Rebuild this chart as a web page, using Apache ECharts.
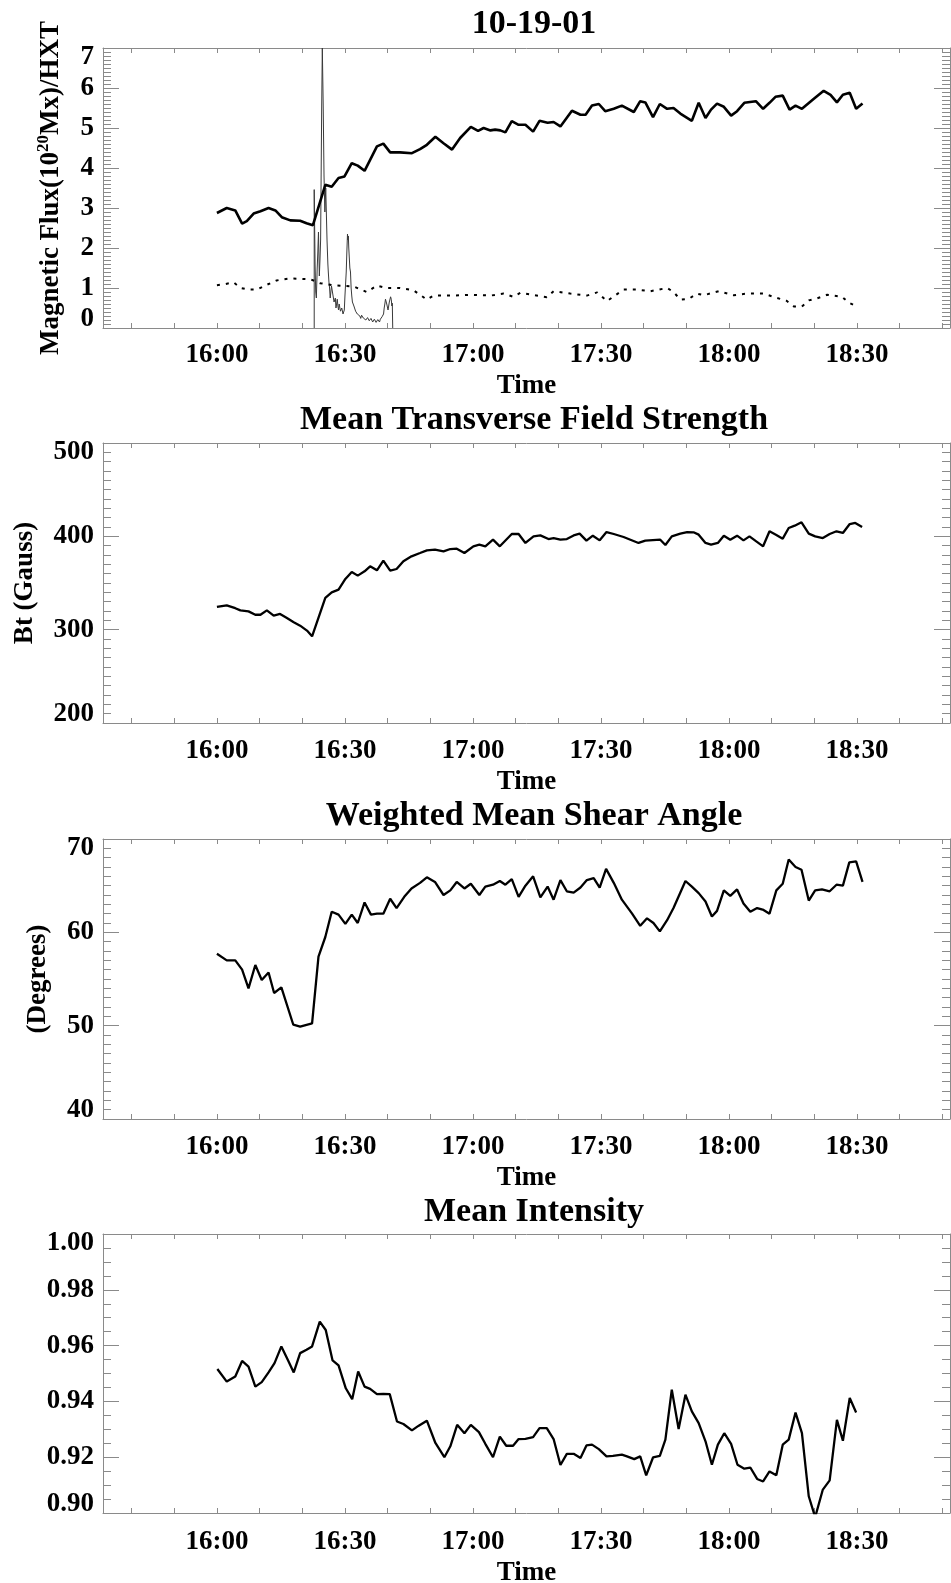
<!DOCTYPE html>
<html>
<head>
<meta charset="utf-8">
<script src="https://cdn.jsdelivr.net/npm/echarts@6/dist/echarts.min.js"></script>
<style>
html,body{margin:0;padding:0;background:#fff;}
#chart{width:951px;height:1583px;}
</style>
</head>
<body>
<div id="chart"></div>
<script>
// Times are minutes after 16:00 UT
const titles = ['10-19-01', 'Mean Transverse Field Strength', 'Weighted Mean Shear Angle', 'Mean Intensity'];
const timeTicks = [-20,-10,0,10,20,30,40,50,60,70,80,90,100,110,120,130,140,150,160,170];
const timeLabels = [0,30,60,90,120,150];

// Panel 1: magnetic flux (solid), second flux (dotted), HXT (thin)
const fluxT = [0,2.3,4.3,5.9,7.0,8.6,10.2,12.1,13.7,15.2,17.2,19.5,21.0,22.5,25.4,26.9,28.5,29.9,31.6,33.0,34.6,37.5,39.0,40.6,42.9,45.7,47.6,49.2,51.2,53.1,55.1,57.0,59.5,61.2,62.5,64.1,65.2,66.4,67.6,69.1,70.7,72.3,74.1,75.6,77.5,78.9,80.5,83.2,85.2,86.4,87.9,89.5,91.0,93.0,94.9,97.7,99.2,100.4,102.2,103.8,105.5,107.0,108.6,111.3,112.9,114.5,115.8,117.2,118.8,120.5,121.9,123.6,126.3,128.0,129.5,130.9,132.6,134.2,135.6,137.1,139.9,142.2,143.8,145.3,146.7,148.3,149.8,151.3];
const fluxV = [2.875,3.0,2.94,2.61,2.67,2.86,2.92,3.0,2.94,2.77,2.69,2.68,2.62,2.57,3.58,3.53,3.75,3.79,4.12,4.06,3.93,4.54,4.61,4.39,4.39,4.37,4.47,4.58,4.78,4.62,4.46,4.75,5.03,4.93,5.0,4.94,4.96,4.94,4.89,5.17,5.08,5.08,4.91,5.18,5.13,5.15,5.04,5.43,5.33,5.33,5.56,5.6,5.42,5.48,5.56,5.4,5.67,5.64,5.27,5.6,5.48,5.5,5.36,5.18,5.63,5.25,5.46,5.61,5.53,5.31,5.42,5.63,5.67,5.48,5.63,5.78,5.81,5.46,5.56,5.48,5.73,5.93,5.83,5.64,5.83,5.88,5.48,5.61];

const dotT = [0,2.0,3.9,5.6,7.4,9.4,11.7,14.0,17.2,19.5,21.9,24.2,27.3,30.0,32.0,35.1,37.5,39.8,42.9,46.1,49.2,50.8,55.5,59.4,62.6,64.1,67.2,69.5,71.1,74.4,77.3,78.9,82.8,86.7,89.1,91.4,93.0,95.3,98.4,101.6,105.5,107.0,108.6,110.6,112.5,114.1,117.6,121.1,124.2,128.1,131.3,133.5,135.2,137.1,138.7,140.6,143.0,146.5,148.1,150.0];
const dotV = [1.07,1.1,1.14,1.0,0.96,0.96,1.08,1.19,1.24,1.23,1.22,1.12,1.07,1.05,1.04,0.9,1.06,1.0,1.0,0.94,0.71,0.81,0.81,0.83,0.82,0.81,0.86,0.78,0.88,0.82,0.77,0.92,0.86,0.81,0.89,0.67,0.79,0.96,0.96,0.92,1.0,0.9,0.71,0.73,0.86,0.82,0.92,0.82,0.86,0.86,0.75,0.68,0.54,0.54,0.69,0.74,0.83,0.78,0.63,0.54];

const hxtT = [22.8,22.8,23.0,23.15,23.3,23.5,23.65,23.8,24.0,24.15,24.3,24.55,24.7,24.9,25.1,25.3,25.5,25.8,26.0,26.1,26.25,26.4,26.55,26.7,26.85,27.0,27.15,27.3,27.45,27.6,27.75,27.9,28.05,28.2,28.35,28.5,28.65,28.8,28.95,29.1,29.25,29.4,29.55,29.7,29.85,30.0,30.15,30.3,30.45,30.6,30.7,30.8,30.9,31.0,31.15,31.3,31.45,31.6,31.75,31.9,32.1,32.3,32.5,32.7,32.9,33.1,33.3,33.5,33.7,33.9,34.1,34.3,34.5,34.7,34.9,35.1,35.3,35.5,35.7,35.9,36.1,36.3,36.5,36.7,36.9,37.1,37.3,37.5,37.7,37.9,38.1,38.3,38.5,38.7,38.9,39.05,39.2,39.35,39.5,39.65,39.8,39.95,40.1,40.25,40.4,40.55,40.7,40.85,41.0,41.1,41.2];
const hxtV = [0,3.46,1.6,0.9,0.75,1.5,1.9,2.4,1.3,1.7,2.2,5.5,7.0,5.6,3.8,2.9,3.5,2.2,1.6,1.4,1.15,1.0,0.75,0.9,1.05,1.1,0.85,0.8,0.65,0.6,0.75,0.5,0.6,0.72,0.55,0.45,0.6,0.62,0.42,0.4,0.5,0.55,0.35,0.3,0.45,0.8,1.1,1.4,1.9,2.35,2.2,2.3,2.0,1.8,1.5,1.4,1.0,0.8,0.65,0.6,0.55,0.5,0.42,0.4,0.35,0.38,0.3,0.3,0.24,0.32,0.27,0.25,0.3,0.27,0.2,0.22,0.26,0.25,0.18,0.2,0.24,0.22,0.15,0.17,0.22,0.2,0.14,0.16,0.21,0.19,0.15,0.22,0.26,0.28,0.32,0.35,0.5,0.6,0.72,0.75,0.6,0.55,0.45,0.5,0.65,0.7,0.78,0.72,0.55,0.62,0];

// Panel 2: mean transverse field (G)
const btT = [0,2.3,4.3,5.5,7.4,9.0,10.2,11.7,13.3,14.8,16.4,18.0,19.5,21.1,22.3,25.4,26.9,28.5,30.1,31.6,33.0,34.6,35.9,37.5,39.0,40.6,42.1,43.7,45.6,47.6,49.2,51.1,53.1,54.7,56.2,58.0,60.1,61.5,62.9,64.7,66.3,69.1,70.7,72.3,74.2,75.8,77.7,78.9,80.5,82.0,83.6,85.0,86.6,88.1,89.7,91.3,93.0,95.3,98.8,100.4,103.9,105.1,106.6,108.6,110.2,111.7,112.9,114.5,115.8,117.4,118.8,120.3,121.9,123.4,124.8,126.4,128.0,129.5,131.0,132.6,134.0,135.4,137.0,138.7,140.2,142.0,143.6,145.2,146.7,148.3,149.6,151.2];
const btV = [324.3,326,323,320.7,319.6,316,316,320.7,315,316.8,312.5,308,304.3,299,292.9,334,340,342.9,354.3,361.8,357.9,362.5,367.9,363.6,373.9,363.2,365,373.2,378.6,382.1,385,385.7,383.9,386.4,386.8,382.1,389.3,391,389.3,396.4,389.3,402.5,402.5,392.9,400,401,397.1,398.2,396.4,397.1,401,402.9,395.4,400.7,395.7,404.6,402.5,399.3,392.9,395.4,396.4,390.7,400,402.9,404.6,404.3,401.8,392.9,391.1,392.9,400.7,396.4,400.7,395.7,400,394.6,389.3,405.4,401.8,397.5,408.9,411.4,415,402.9,400,398.2,402.5,405.4,403.6,413.2,414.3,410];

// Panel 3: weighted mean shear angle (deg)
const shearT = [0,2.3,4.3,5.9,7.4,9.0,10.5,12.1,13.4,15.1,17.9,19.5,22.3,23.8,25.4,26.9,28.5,30.1,31.6,33.0,34.6,36.1,37.5,39.0,40.6,42.1,43.9,45.6,47.6,49.2,51.1,53.1,54.7,56.2,58.0,59.5,61.5,62.9,64.7,66.3,67.6,69.1,70.7,72.3,74.1,75.8,77.5,78.9,80.5,82.0,83.6,85.2,86.7,88.3,89.7,91.2,93.0,94.9,97.3,99.2,100.8,102.3,103.8,105.5,107.0,109.8,111.3,112.9,114.5,116.0,117.2,118.8,120.3,121.9,123.4,125.0,126.6,128.1,129.5,131.1,132.6,134.0,135.6,137.0,138.7,140.2,141.8,143.6,145.2,146.7,148.2,149.8,151.3];
const shearV = [57.7,57.0,57.0,56.0,54.0,56.5,54.9,55.7,53.5,54.1,50.1,49.9,50.25,57.4,59.5,62.2,61.9,60.9,61.9,61.0,63.2,61.9,62.0,62.0,63.6,62.6,63.8,64.7,65.3,65.9,65.4,64.0,64.5,65.4,64.7,65.2,64.0,64.9,65.1,65.5,65.1,65.7,63.8,65.0,66.0,63.75,64.9,63.5,65.6,64.4,64.25,64.8,65.6,65.8,64.8,66.8,65.3,63.5,62.0,60.7,61.5,61.0,60.1,61.3,62.6,65.5,64.9,64.2,63.3,61.7,62.3,64.5,63.9,64.6,63.1,62.2,62.6,62.4,62.0,64.5,65.2,67.8,67.0,66.7,63.4,64.5,64.6,64.4,65.1,65.0,67.5,67.6,65.4];

// Panel 4: mean intensity
const intT = [0.1,2.3,4.3,5.9,7.4,9.0,10.5,12.1,13.5,15.1,16.6,18.0,19.5,21.0,22.3,24.1,25.5,27.1,28.5,30.2,31.7,33.1,34.6,35.9,37.5,39.0,40.5,42.2,43.7,45.7,47.3,49.2,51.2,53.3,54.7,56.3,58.0,59.5,61.4,62.9,64.7,66.3,67.8,69.4,70.7,72.3,74.1,75.6,77.3,78.9,80.5,82.0,83.6,85.2,86.6,87.9,89.5,91.3,92.8,94.9,96.1,97.8,99.2,100.6,102.2,103.8,105.1,106.6,108.2,109.8,111.3,112.9,114.5,116.0,117.4,118.9,120.5,122.0,123.6,125.0,126.6,128.0,129.5,131.1,132.6,134.0,135.6,137.1,138.7,140.2,142.0,143.6,145.3,146.7,148.3,149.8];
const intV = [0.9516,0.9471,0.9489,0.9545,0.9525,0.9453,0.9469,0.9504,0.9537,0.9597,0.9549,0.9504,0.9573,0.9585,0.9597,0.9686,0.9656,0.9547,0.9529,0.9447,0.9408,0.9507,0.9453,0.9445,0.9426,0.9427,0.9426,0.9328,0.9319,0.9296,0.9313,0.9331,0.9251,0.92,0.9239,0.9316,0.9286,0.9316,0.929,0.9248,0.92,0.9274,0.9241,0.9241,0.9265,0.9266,0.9272,0.9304,0.9304,0.9265,0.9172,0.9212,0.9212,0.9197,0.9242,0.9245,0.9229,0.9203,0.9205,0.9209,0.9203,0.9193,0.9203,0.9135,0.9199,0.9205,0.9263,0.9442,0.9301,0.9424,0.9364,0.9322,0.9257,0.9173,0.9245,0.9286,0.9248,0.9173,0.9159,0.9163,0.9122,0.9113,0.9149,0.9135,0.9245,0.9263,0.936,0.9286,0.906,0.8985,0.9084,0.9117,0.9334,0.9259,0.9412,0.936];

const FONT = '"Liberation Serif","Times New Roman",Times,serif';
const FRAME = '#8a8a8a';
const XMIN = -26.7, XMAX = 171.8;

function pair(t, v) { return t.map((x, i) => [x, v[i]]); }
function hhmm(m) {
  const tot = Math.round(16 * 60 + m);
  const h = Math.floor(tot / 60), mm = tot % 60;
  return h + ':' + (mm < 10 ? '0' : '') + mm;
}

const panels = [
  { top: 48, height: 280, min: 0, max: 7, interval: 1, minor: 10, dec: 0, shift: 0,
    name: '{a|Magnetic Flux(10}{s|20}{a|Mx)/HXT}', nameGap: 38 },
  { top: 443, height: 280, min: 200, max: 500, interval: 100, minor: 10, dec: 0, shift: 1,
    name: 'Bt (Gauss)', nameGap: 64 },
  { top: 839, height: 280, min: 40, max: 70, interval: 10, minor: 10, dec: 0, shift: 1,
    name: '(Degrees)', nameGap: 51 },
  { top: 1234, height: 279, min: 0.90, max: 1.00, interval: 0.02, minor: 4, dec: 2, shift: 2,
    name: '', nameGap: 50 }
];

const grid = [], xAxis = [], yAxis = [], title = [];
const titleTops = [2, 398, 794, 1190];
panels.forEach((p, i) => {
  grid.push({ left: 103, width: 847, top: p.top, height: p.height, containLabel: false, outerBoundsMode: 'none' });
  title.push({
    text: titles[i], left: 529, top: titleTops[i], textAlign: 'center',
    textStyle: { fontFamily: FONT, fontWeight: 'bold', fontSize: 34, color: '#000' }
  });
  const xBase = {
    type: 'value', gridIndex: i, min: XMIN, max: XMAX,
    splitLine: { show: false },
    axisLine: { show: true, onZero: false, lineStyle: { color: FRAME, width: 1 } },
    axisTick: { show: true, inside: true, length: 5, customValues: timeTicks, lineStyle: { color: FRAME } }
  };
  xAxis.push(Object.assign({}, xBase, {
    position: 'bottom',
    axisLabel: { customValues: timeLabels, formatter: v => hhmm(v), fontFamily: FONT, fontWeight: 'bold',
                 fontSize: 27, color: '#000', margin: 14 + p.shift },
    name: 'Time', nameLocation: 'middle', nameGap: 45 + p.shift,
    nameTextStyle: { fontFamily: FONT, fontWeight: 'bold', fontSize: 27, color: '#000' }
  }));
  xAxis.push(Object.assign({}, xBase, { position: 'top', axisLabel: { show: false } }));
  const yBase = {
    type: 'value', gridIndex: i, min: p.min, max: p.max, interval: p.interval,
    splitLine: { show: false }, minorSplitLine: { show: false },
    axisLine: { show: true, onZero: false, lineStyle: { color: FRAME, width: 1 } },
    axisTick: { show: true, inside: true, length: 16, lineStyle: { color: FRAME } },
    minorTick: { show: true, splitNumber: p.minor, length: 8, lineStyle: { color: FRAME } }
  };
  yAxis.push(Object.assign({}, yBase, {
    position: 'left',
    axisLabel: { formatter: v => v.toFixed(p.dec), fontFamily: FONT, fontWeight: 'bold', fontSize: 27,
                 lineHeight: 18, color: '#000', margin: 9, showMinLabel: true, showMaxLabel: true,
                 hideOverlap: false,
                 verticalAlignMinLabel: 'bottom', verticalAlignMaxLabel: 'top' },
    name: p.name, nameLocation: 'middle', nameGap: p.nameGap,
    nameTextStyle: { fontFamily: FONT, fontWeight: 'bold', fontSize: 27, color: '#000',
      rich: {
        a: { fontFamily: FONT, fontWeight: 'bold', fontSize: 27, color: '#000', lineHeight: 30, verticalAlign: 'bottom' },
        s: { fontFamily: FONT, fontWeight: 'bold', fontSize: 17, color: '#000', lineHeight: 30, verticalAlign: 'top' }
      } }
  }));
  yAxis.push(Object.assign({}, yBase, { position: 'right', axisLabel: { show: false } }));
});

const lineBase = { type: 'line', showSymbol: false, symbol: 'none', animation: false, clip: true };
const series = [
  Object.assign({}, lineBase, { xAxisIndex: 0, yAxisIndex: 0, data: pair(hxtT, hxtV), z: 2,
    lineStyle: { color: '#3a3a3a', width: 1 } }),
  Object.assign({}, lineBase, { xAxisIndex: 0, yAxisIndex: 0, data: pair(dotT, dotV), z: 3,
    lineStyle: { color: '#000', width: 2, type: [3, 6] } }),
  Object.assign({}, lineBase, { xAxisIndex: 0, yAxisIndex: 0, data: pair(fluxT, fluxV), z: 4,
    lineStyle: { color: '#000', width: 2.6 } }),
  Object.assign({}, lineBase, { xAxisIndex: 2, yAxisIndex: 2, data: pair(btT, btV),
    lineStyle: { color: '#000', width: 2.3 } }),
  Object.assign({}, lineBase, { xAxisIndex: 4, yAxisIndex: 4, data: pair(shearT, shearV),
    lineStyle: { color: '#000', width: 2.3 } }),
  Object.assign({}, lineBase, { xAxisIndex: 6, yAxisIndex: 6, data: pair(intT, intV),
    lineStyle: { color: '#000', width: 2.3 } })
];

const chart = echarts.init(document.getElementById('chart'), null, { renderer: 'canvas' });
chart.setOption({ backgroundColor: '#fff', animation: false, title, grid, xAxis, yAxis, series });
</script>
</body>
</html>
